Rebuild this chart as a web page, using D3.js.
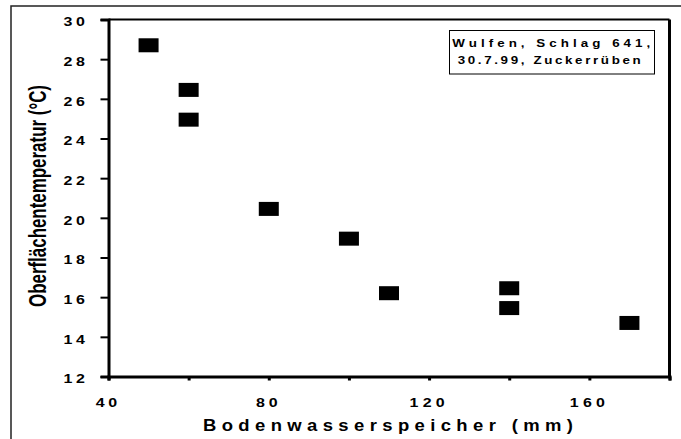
<!DOCTYPE html>
<html><head><meta charset="utf-8">
<script src="https://cdn.jsdelivr.net/npm/d3@7"></script>
<style>body{margin:0;background:#fff;} svg{display:block;} svg text{font-family:"Liberation Sans",Arial,sans-serif;font-weight:bold;fill:#000;}</style>
</head><body>
<svg id="c" width="681" height="439"></svg>
<script>
const xValues = [50, 60, 60, 80, 100, 110, 140, 140, 170];
const yValues = [28.7, 26.45, 24.95, 20.45, 18.95, 16.2, 16.45, 15.45, 14.7];
const xTicks = [40, 80, 120, 160];
const xMinorTicks = [40, 60, 80, 100, 120, 140, 160, 180];
const yTicks = [12, 14, 16, 18, 20, 22, 24, 26, 28, 30];
const legendLines = ["Wulfen, Schlag 641,", "30.7.99, Zuckerrüben"];
const xTitle = "Bodenwasserspeicher (mm)";
const yTitle = "Oberflächentemperatur (°C)";

const svg = d3.select("#c");
const L = 108.5, R = 669.5, T = 19.5, B = 376.5;
const x = d3.scaleLinear().domain([40, 180]).range([L, R]);
const y = d3.scaleLinear().domain([12, 30]).range([B, T]);

// text with horizontal glyph stretch and letter spacing fitted to a visible width
function spacedText(g, str, left, baseline, fs, sx, W) {
  const t = g.append("text")
    .attr("transform", `translate(${left},${baseline}) scale(${sx},1)`)
    .style("font-size", fs + "px").text(str);
  const L0 = t.node().getComputedTextLength();
  const n = str.length;
  const ls = n > 1 ? (W / sx - L0) / (n - 1) : 0;
  t.style("letter-spacing", ls + "px");
  return t;
}

// outer frame
svg.append("rect").attr("x", 11).attr("y", 6).attr("width", 700).attr("height", 500)
  .attr("fill", "none").attr("stroke", "#222").attr("stroke-width", 1.5);

// plot borders: top and right
svg.append("line").attr("x1", L).attr("x2", R).attr("y1", T).attr("y2", T)
  .attr("stroke", "#000").attr("stroke-width", 2);
svg.append("line").attr("x1", R).attr("x2", R).attr("y1", T).attr("y2", B)
  .attr("stroke", "#000").attr("stroke-width", 3);

// y axis
const yAxis = d3.axisLeft(y).tickValues(yTicks).tickSize(8).tickFormat("");
const gy = svg.append("g").attr("transform", `translate(${L},0)`).call(yAxis);
gy.select(".domain").attr("stroke", "#000").attr("stroke-width", 3);
gy.selectAll(".tick line").attr("stroke", "#000").attr("stroke-width", 2);

const gyl = svg.append("g");
const tickFs = 12.3, tickSx = 1.3, digitW = 13.5, glyphW = 8;
yTicks.forEach(v => {
  const s = String(v);
  const W = digitW * (s.length - 1) + glyphW;
  spacedText(gyl, s, 85 - W, y(v) + 2.5 + 4.4, tickFs, tickSx, W);
});

// x axis
const xAxisMinor = d3.axisBottom(x).tickValues(xMinorTicks).tickSize(4).tickFormat("");
const gxm = svg.append("g").attr("transform", `translate(0,${B})`).call(xAxisMinor);
gxm.select(".domain").attr("stroke", "#000").attr("stroke-width", 3);
gxm.selectAll(".tick line").attr("stroke", "#000").attr("stroke-width", 3);

const gxl = svg.append("g");
xTicks.forEach(v => {
  const s = String(v);
  const W = digitW * (s.length - 1) + glyphW;
  spacedText(gxl, s, x(v) - 2 - W / 2, 407, tickFs, tickSx, W);
});

// titles
spacedText(svg, xTitle, 203, 430.7, 16.5, 1.12, 370);
svg.append("text")
  .attr("transform", `translate(45.5,196) rotate(-90) scale(1,1.6)`)
  .attr("text-anchor", "middle").style("font-size", "14.5px")
  .attr("textLength", 222).attr("lengthAdjust", "spacingAndGlyphs").text(yTitle);

// markers
const w = 20, h = 14;
svg.append("g").selectAll("rect").data(xValues.map((v, i) => [v, yValues[i]])).join("rect")
  .attr("x", d => x(d[0]) - w / 2).attr("y", d => y(d[1]) - h / 2)
  .attr("width", w).attr("height", h).attr("fill", "#000");

// legend box
svg.append("rect").attr("x", 449.5).attr("y", 30.5).attr("width", 205).attr("height", 43.5)
  .attr("fill", "#fff").attr("stroke", "#000").attr("stroke-width", 1);
spacedText(svg, legendLines[0], 452.3, 47.3, 10.3, 1.3, 198);
spacedText(svg, legendLines[1], 457.7, 64.3, 10.3, 1.3, 183);
</script>
</body></html>
